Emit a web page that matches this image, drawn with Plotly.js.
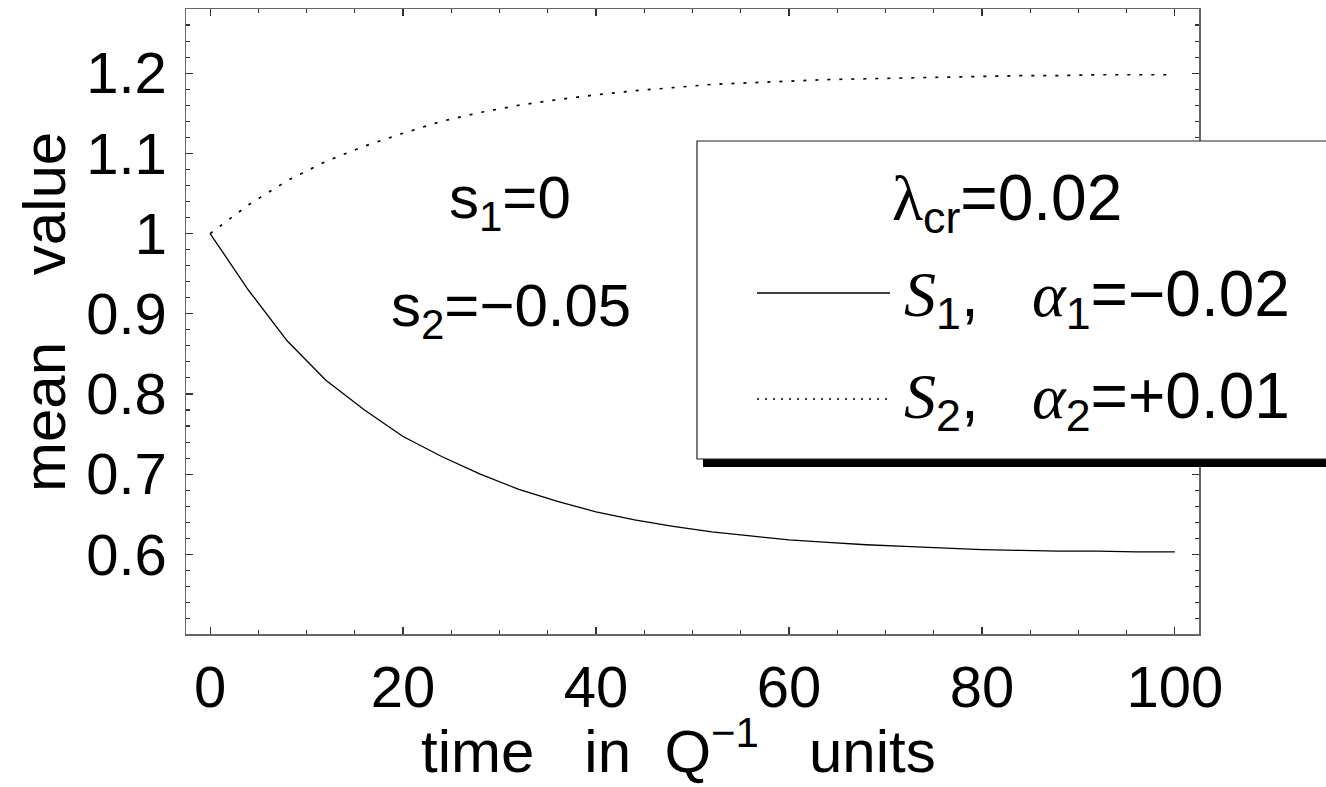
<!DOCTYPE html>
<html>
<head>
<meta charset="utf-8">
<script src="https://cdn.plot.ly/plotly-3.0.1.min.js"></script>
<style>
  html, body { margin: 0; padding: 0; background: #fff; }
  #chart { width: 1326px; height: 787px; }
</style>
</head>
<body>
<div id="chart"></div>
<script>
// ---- data ----
const timeValues = [0, 4, 8, 12, 16, 20, 24, 28, 32, 36, 40, 44, 48, 52, 56, 60, 64, 68, 72, 76, 80, 84, 88, 92, 96, 100];
const seriesS1 = [1.000, 0.929, 0.866, 0.817, 0.780, 0.747, 0.722, 0.700, 0.681, 0.666, 0.653, 0.643, 0.635, 0.628, 0.623, 0.618, 0.615, 0.612, 0.610, 0.608, 0.606, 0.605, 0.604, 0.604, 0.603, 0.603];
const seriesS2 = [1.000, 1.036, 1.066, 1.090, 1.109, 1.125, 1.140, 1.151, 1.160, 1.167, 1.173, 1.178, 1.182, 1.186, 1.188, 1.190, 1.192, 1.193, 1.194, 1.195, 1.196, 1.197, 1.197, 1.198, 1.198, 1.198];
const xTickVals = [0, 20, 40, 60, 80, 100];
const xTickText = ["0", "20", "40", "60", "80", "100"];
const yTickVals = [0.6, 0.7, 0.8, 0.9, 1.0, 1.1, 1.2];
const yTickText = ["0.6", "0.7", "0.8", "0.9", "1", "1.1", "1.2"];
const SERIF_I = 'font-family:\'Liberation Serif\';font-style:italic';
const labelS1 = '<span style="' + SERIF_I + '">S</span><sub>1</sub>,   <span style="' + SERIF_I + '">α</span><sub>1</sub>=−0.02';
const labelS2 = '<span style="' + SERIF_I + '">S</span><sub>2</sub>,   <span style="' + SERIF_I + '">α</span><sub>2</sub>=+0.01';
const legendTitle = '<span style="font-family:\'Liberation Serif\'">λ</span><sub>cr</sub>=0.02';
const noteS1 = 's<sub>1</sub>=0';
const noteS2 = 's<sub>2</sub>=−0.05';
const xTitle = 'time   in  Q<sup>−1</sup>   units';
const yTitle = 'mean    value';

// ---- layout geometry (pixels of the 1326x787 page) ----
const W = 1326, H = 787;
const M = {l: 186, r: 127, t: 9, b: 153};
const PW = W - M.l - M.r, PH = H - M.t - M.b;
const px = x => (x - M.l) / PW;
const py = y => (H - M.b - y) / PH;

const FONT = '"Liberation Sans", Arial, Helvetica, sans-serif';
const FS_TICK = 58;
const FS_TEXT = 60;
const FS_LEG = 64;

const traces = [
  {x: timeValues, y: seriesS1, type: 'scatter', mode: 'lines', name: 'S1',
   line: {color: '#000', width: 1.3}, hoverinfo: 'skip'},
  {x: timeValues, y: seriesS2, type: 'scatter', mode: 'lines', name: 'S2',
   line: {color: '#000', width: 1.7, dash: '3px,9px'}, hoverinfo: 'skip'}
];

const axisCommon = {
  showgrid: false, zeroline: false, showline: true, linecolor: '#666', linewidth: 1.5,
  mirror: 'ticks', ticks: 'inside', ticklen: 7, tickwidth: 1.2, tickcolor: '#333',
  tickmode: 'array', tickfont: {family: FONT, size: FS_TICK, color: '#000'}
};

const layout = {
  width: W, height: H,
  margin: {l: M.l, r: M.r, t: M.t, b: M.b, autoexpand: false},
  paper_bgcolor: '#fff', plot_bgcolor: '#fff',
  showlegend: false,
  font: {family: FONT, size: FS_TEXT, color: '#000'},
  xaxis: Object.assign({}, axisCommon, {
    range: [-2.5, 102.5], tickvals: xTickVals, ticktext: xTickText,
    ticklabelstandoff: 2,
    minor: {ticks: 'inside', ticklen: 4, tickwidth: 1.1, tickcolor: '#333', dtick: 5, tick0: 0, showgrid: false}
  }),
  yaxis: Object.assign({}, axisCommon, {
    range: [0.5007, 1.28], tickvals: yTickVals, ticktext: yTickText,
    ticklabelstandoff: 6,
    minor: {ticks: 'inside', ticklen: 4, tickwidth: 1.1, tickcolor: '#333', dtick: 0.02, tick0: 0.5, showgrid: false}
  }),
  shapes: [
    // legend shadow
    {type: 'rect', xref: 'paper', yref: 'paper', x0: px(703), x1: px(1340), y0: py(467), y1: py(458),
     fillcolor: '#000', line: {width: 0}, layer: 'above'},
    // legend box
    {type: 'rect', xref: 'paper', yref: 'paper', x0: px(697), x1: px(1340), y0: py(459), y1: py(141),
     fillcolor: '#fff', line: {color: '#222', width: 1.2}, layer: 'above'},
    // legend samples
    {type: 'line', xref: 'paper', yref: 'paper', x0: px(757), x1: px(890), y0: py(293), y1: py(293),
     line: {color: '#000', width: 1.3}, layer: 'above'},
    {type: 'line', xref: 'paper', yref: 'paper', x0: px(757), x1: px(890), y0: py(399), y1: py(399),
     line: {color: '#000', width: 1.3, dash: '2px,6px'}, layer: 'above'}
  ],
  annotations: [
    {text: noteS1, xref: 'paper', yref: 'paper', x: px(510), y: py(202), showarrow: false,
     xanchor: 'center', yanchor: 'middle', font: {size: FS_TEXT}},
    {text: noteS2, xref: 'paper', yref: 'paper', x: px(511), y: py(310), showarrow: false,
     xanchor: 'center', yanchor: 'middle', font: {size: FS_TEXT}},
    {text: legendTitle, xref: 'paper', yref: 'paper', x: px(1007), y: py(202), showarrow: false,
     xanchor: 'center', yanchor: 'middle', font: {size: FS_LEG}},
    {text: labelS1, xref: 'paper', yref: 'paper', x: px(902), y: py(298), showarrow: false,
     xanchor: 'left', yanchor: 'middle', font: {size: FS_LEG}},
    {text: labelS2, xref: 'paper', yref: 'paper', x: px(902), y: py(400), showarrow: false,
     xanchor: 'left', yanchor: 'middle', font: {size: FS_LEG}},
    {text: xTitle, xref: 'paper', yref: 'paper', x: px(678), y: py(747), showarrow: false,
     xanchor: 'center', yanchor: 'middle', font: {size: FS_TEXT}},
    {text: yTitle, xref: 'paper', yref: 'paper', x: px(44), y: py(312), showarrow: false,
     xanchor: 'center', yanchor: 'middle', textangle: -90, font: {size: FS_TEXT}}
  ]
};

Plotly.newPlot('chart', traces, layout, {displayModeBar: false, staticPlot: true});
</script>
</body>
</html>
